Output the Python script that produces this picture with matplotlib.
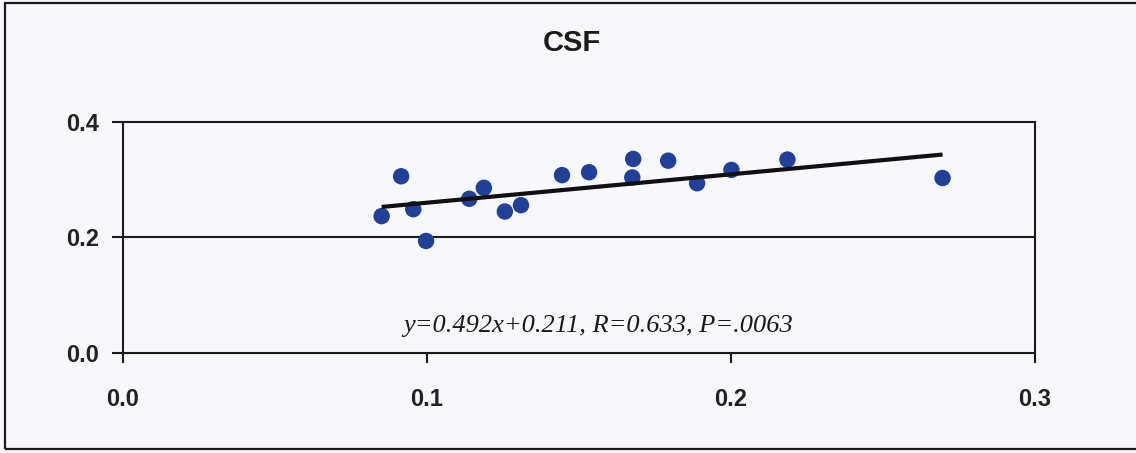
import matplotlib
matplotlib.use("Agg")
import matplotlib.pyplot as plt
from matplotlib.patches import Rectangle
import numpy as np

# CSF measurements
x_vals = [0.0852, 0.0916, 0.0956, 0.0998, 0.1140, 0.1188, 0.1257, 0.1310,
          0.1445, 0.1534, 0.1679, 0.1676, 0.1794, 0.1889, 0.2002, 0.2186,
          0.2696]
y_vals = [0.237, 0.306, 0.249, 0.194, 0.267, 0.286, 0.245, 0.256,
          0.308, 0.313, 0.336, 0.304, 0.333, 0.294, 0.317, 0.335,
          0.303]

# regression parameters
slope = 0.492
intercept = 0.211
fit_label = "y=0.492x+0.211, R=0.633, P=.0063"

x_ticks = [0.0, 0.1, 0.2, 0.3]
y_ticks = [0.0, 0.2, 0.4]
title = "CSF"

W, H = 1136, 453
bg = "#f7f8fc"
fig = plt.figure(figsize=(W / 100, H / 100), dpi=100, facecolor=bg)

# outer chart frame (right edge runs past the figure)
fig.patches.append(Rectangle((5 / W, 4 / H), (1145 - 5) / W, (450 - 4) / H,
                             transform=fig.transFigure, fill=False,
                             edgecolor="#1a1a1a", linewidth=1.6))

ax = fig.add_axes([122.5 / W, 1 - 353 / H, (1035 - 122.5) / W, (353 - 122) / H])
ax.set_facecolor(bg)
ax.set_xlim(0, 0.3)
ax.set_ylim(0, 0.4)

ax.axhline(0.2, color="#1a1a1a", linewidth=1.5, zorder=1)

ax.scatter(x_vals, y_vals, s=140, color="#21409a", edgecolors="none", zorder=3)

xs = np.array([min(x_vals), max(x_vals)])
ax.plot(xs, slope * xs + intercept, color="#111111", linewidth=3.0,
        solid_capstyle="butt", zorder=4)

for side in ax.spines.values():
    side.set_color("#1a1a1a")
    side.set_linewidth(1.5)

ax.set_xticks(x_ticks)
ax.set_yticks(y_ticks)
ax.set_xticklabels([f"{v:.1f}" for v in x_ticks])
ax.set_yticklabels([f"{v:.1f}" for v in y_ticks])
ax.tick_params(axis="x", direction="out", length=7, width=1.5, pad=18,
               colors="#1a1a1a", labelsize=17)
ax.tick_params(axis="y", direction="out", length=8, width=1.5, pad=9,
               colors="#1a1a1a", labelsize=17)
for lab in ax.get_xticklabels() + ax.get_yticklabels():
    lab.set_fontfamily("Liberation Sans")
    lab.set_fontweight("bold")
    lab.set_color("#222222")

ax.text(0.1565, 0.046, fit_label, fontfamily="Liberation Serif",
        fontstyle="italic", fontsize=19, ha="center", va="center",
        color="#1a1a1a")

fig.text(572 / W, 1 - 43 / H, title, fontfamily="Liberation Sans",
         fontweight="bold", fontsize=21, ha="center", va="center",
         color="#1a1a1a")

fig.savefig("out.png", dpi=100, facecolor=bg)
